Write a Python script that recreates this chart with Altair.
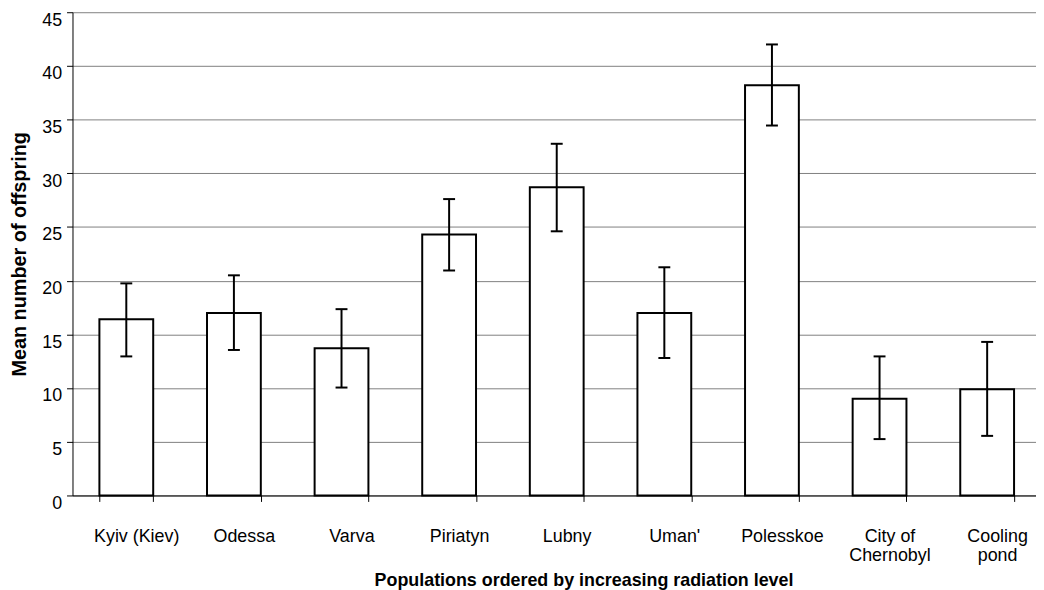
import altair as alt
import pandas as pd

populations = ["Kyiv (Kiev)", "Odessa", "Varva", "Piriatyn", "Lubny",
               "Uman'", "Polesskoe", "City of Chernobyl", "Cooling pond"]
mean_offspring = [16.4, 17.0, 13.7, 24.3, 28.7, 17.0, 38.2, 9.0, 9.9]
upper_err = [19.75, 20.5, 17.35, 27.6, 32.75, 21.25, 42.0, 12.95, 14.3]
lower_err = [12.95, 13.55, 10.05, 20.95, 24.6, 12.8, 34.45, 5.25, 5.55]
y_ticks = [0, 5, 10, 15, 20, 25, 30, 35, 40, 45]

df = pd.DataFrame({
    "population": populations,
    "mean": mean_offspring,
    "hi": upper_err,
    "lo": lower_err,
})

FONT = "Liberation Sans"

label_expr = ("datum.value == 'City of Chernobyl' ? ['City of', 'Chernobyl'] : "
              "datum.value == 'Cooling pond' ? ['Cooling', 'pond'] : datum.value")

x_enc = alt.X(
    "population:N",
    sort=populations,
    scale=alt.Scale(range=[0, 976], paddingInner=0.5, paddingOuter=0.25),
    axis=alt.Axis(
        title="Populations ordered by increasing radiation level",
        labelAngle=0,
        tickBand="extent",
        labelExpr=label_expr,
        labelPadding=26,
        labelLineHeight=20,
        labelOffset=10,
        titlePadding=7,
        titleFontSize=18,
        titleX=515,
        titleAlign="center",
    ),
)

y_scale = alt.Scale(domain=[0, 45], nice=False)

bars = alt.Chart(df).mark_bar(fill="white", stroke="black", strokeWidth=2).encode(
    x=x_enc,
    y=alt.Y("mean:Q", scale=y_scale,
            axis=alt.Axis(values=y_ticks, title="Mean number of offspring",
                          grid=True, labelOffset=8, titlePadding=12,
                          titleFontSize=20)),
)

rules = alt.Chart(df).mark_rule(color="black", strokeWidth=2).encode(
    x=x_enc,
    y=alt.Y("lo:Q", scale=y_scale),
    y2="hi:Q",
)

caps_hi = alt.Chart(df).mark_tick(color="black", thickness=2, size=12, opacity=1).encode(
    x=x_enc,
    y=alt.Y("hi:Q", scale=y_scale),
)
caps_lo = alt.Chart(df).mark_tick(color="black", thickness=2, size=12, opacity=1).encode(
    x=x_enc,
    y=alt.Y("lo:Q", scale=y_scale),
)

chart = alt.layer(bars, rules, caps_hi, caps_lo).properties(
    width=971,
    height=487,
    autosize=alt.AutoSizeParams(type="none"),
    padding={"left": 65, "top": 2, "right": 0, "bottom": 93},
).configure_view(stroke=None).configure_axis(
    labelFont=FONT,
    titleFont=FONT,
    labelFontSize=18,
    titleFontSize=18,
    titleFontWeight="bold",
    labelColor="black",
    titleColor="black",
    domainColor="black",
    tickColor="black",
    tickSize=6,
    labelPadding=5,
    gridColor="#808080",
    gridWidth=1,
    domainWidth=1,
    tickWidth=1,
).configure_axisX(grid=False)

chart.save("out.html", embed_options={"renderer": "svg", "actions": False})
